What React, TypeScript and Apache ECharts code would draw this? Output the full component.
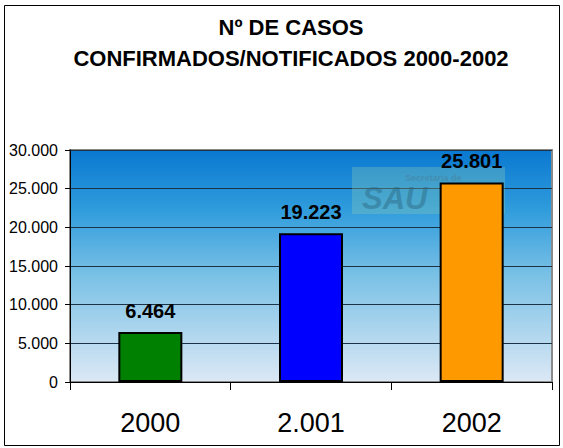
import React, { useEffect, useRef } from "react";
import * as echarts from "echarts";

const categories = ["2000", "2.001", "2002"];
const values = [6464, 19223, 25801];
const barColors = ["#008000", "#0000ff", "#ff9900"];
const yTicks = [0, 5000, 10000, 15000, 20000, 25000, 30000];

const fmt = (v: number) => {
  const s = String(Math.round(v));
  return s.replace(/\B(?=(\d{3})+(?!\d))/g, ".");
};

const FONT = "Liberation Sans, Arial, sans-serif";

export default function App() {
  const ref = useRef<HTMLDivElement>(null);
  useEffect(() => {
    document.body.style.margin = "0";
    const chart = echarts.init(ref.current!, null, { renderer: "svg" });
    chart.setOption({
      animation: false,
      backgroundColor: "#ffffff",
      title: {
        text: "Nº DE CASOS\nCONFIRMADOS/NOTIFICADOS 2000-2002",
        left: 286,
        textAlign: "center",
        top: 7,
        textStyle: {
          fontFamily: FONT,
          fontSize: 22,
          fontWeight: "bold",
          color: "#000",
          lineHeight: 31,
        },
      },
      graphic: [
        {
          type: "rect",
          shape: { x: 4.5, y: 5.5, width: 555, height: 440 },
          style: { fill: "none", stroke: "#000", lineWidth: 1 },
          z: 0,
        },
        {
          type: "rect",
          shape: { x: 352, y: 167, width: 153, height: 47 },
          style: { fill: "rgba(150,210,180,0.3)" },
          z: 1,
        },
        {
          type: "text",
          x: 405,
          y: 173,
          style: {
            text: "Secretaria de",
            fontFamily: FONT,
            fontSize: 9,
            fontWeight: "bold",
            fill: "rgba(70,130,160,0.6)",
          },
          z: 1,
        },
        {
          type: "text",
          x: 362,
          y: 183,
          style: {
            text: "SAU",
            fontFamily: FONT,
            fontSize: 31,
            fontWeight: "bold",
            fontStyle: "italic",
            fill: "rgba(40,100,125,0.45)",
          },
          z: 1,
        },
      ],
      grid: {
        left: 70,
        right: 11,
        top: 150,
        bottom: 66,
        show: true,
        borderColor: "#8a8a8a",
        borderWidth: 2,
        backgroundColor: new echarts.graphic.LinearGradient(0, 0, 0, 1, [
          { offset: 0, color: "#0a78d0" },
          { offset: 0.25, color: "#2e9bdc" },
          { offset: 0.55, color: "#7cc2e6" },
          { offset: 1, color: "#dce8f5" },
        ]),
      },
      xAxis: {
        type: "category",
        data: categories,
        axisLine: { lineStyle: { color: "#000", width: 1 } },
        axisTick: { show: true, length: 8, alignWithLabel: false, lineStyle: { color: "#000" } },
        axisLabel: {
          fontFamily: FONT,
          fontSize: 27,
          color: "#000",
          margin: 27,
        },
        splitLine: { show: false },
      },
      yAxis: {
        type: "value",
        min: 0,
        max: 30000,
        interval: 5000,
        axisLine: { show: true, lineStyle: { color: "#000", width: 1 } },
        axisTick: { show: true, length: 5, lineStyle: { color: "#000" } },
        axisLabel: {
          fontFamily: FONT,
          fontSize: 16,
          color: "#000",
          margin: 12,
          formatter: (v: number) => (yTicks.includes(v) ? fmt(v) : ""),
        },
        splitLine: { show: true, lineStyle: { color: "#1c3347", width: 1 } },
      },
      series: [
        {
          type: "bar",
          barWidth: 64,
          data: values.map((v, i) => ({
            value: v,
            itemStyle: { color: barColors[i], borderColor: "#000", borderWidth: 2 },
          })),
          label: {
            show: true,
            position: "top",
            distance: 11,
            formatter: (p: any) => fmt(p.value),
            fontFamily: FONT,
            fontSize: 20,
            fontWeight: "bold",
            color: "#000",
          },
          z: 2,
        },
      ],
    });
    return () => chart.dispose();
  }, []);
  return <div ref={ref} style={{ width: 563, height: 448 }} />;
}
